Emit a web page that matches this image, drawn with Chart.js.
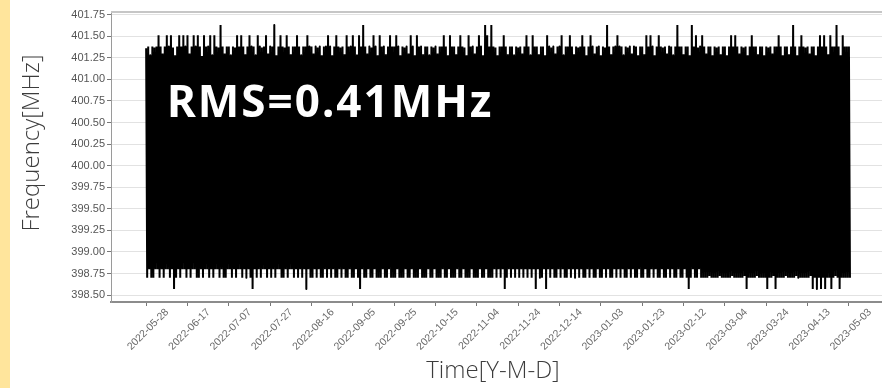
<!DOCTYPE html>
<html>
<head>
<meta charset="utf-8">
<title>Frequency</title>
<script src="https://cdn.jsdelivr.net/npm/chart.js@4.4.1/dist/chart.umd.min.js"></script>
<style>
  html, body { margin: 0; padding: 0; background: #fff; }
  canvas { display: block; }
</style>
</head>
<body>
<canvas id="freq-chart" width="882" height="388"></canvas>
<script>
// one high and one low reading per day, starting at startDate
const startDate = '2022-05-28';

const dailyHigh = [
  401.36, 401.38, 401.28, 401.38, 401.37, 401.38, 401.51, 401.38, 401.30, 401.38,
  401.51, 401.38, 401.51, 401.37, 401.28, 401.38, 401.51, 401.38, 401.51, 401.38,
  401.51, 401.30, 401.38, 401.51, 401.38, 401.51, 401.38, 401.27, 401.51, 401.38,
  401.38, 401.51, 401.28, 401.51, 401.38, 401.37, 401.63, 401.38, 401.30, 401.38,
  401.38, 401.28, 401.38, 401.37, 401.51, 401.38, 401.51, 401.38, 401.29, 401.38,
  401.51, 401.38, 401.38, 401.28, 401.51, 401.38, 401.37, 401.38, 401.51, 401.30,
  401.38, 401.38, 401.63, 401.28, 401.38, 401.51, 401.38, 401.37, 401.51, 401.38,
  401.29, 401.38, 401.38, 401.51, 401.38, 401.28, 401.38, 401.38, 401.51, 401.38,
  401.38, 401.30, 401.38, 401.37, 401.38, 401.28, 401.38, 401.38, 401.51, 401.38,
  401.28, 401.38, 401.51, 401.38, 401.37, 401.38, 401.29, 401.51, 401.38, 401.38,
  401.51, 401.38, 401.28, 401.51, 401.38, 401.63, 401.38, 401.30, 401.38, 401.37,
  401.51, 401.38, 401.28, 401.51, 401.38, 401.38, 401.29, 401.38, 401.51, 401.38,
  401.38, 401.51, 401.38, 401.28, 401.38, 401.37, 401.38, 401.30, 401.51, 401.38,
  401.28, 401.51, 401.38, 401.38, 401.29, 401.38, 401.38, 401.28, 401.38, 401.37,
  401.38, 401.30, 401.38, 401.38, 401.51, 401.38, 401.28, 401.51, 401.38, 401.38,
  401.29, 401.38, 401.51, 401.38, 401.37, 401.28, 401.51, 401.38, 401.38, 401.30,
  401.38, 401.51, 401.38, 401.28, 401.63, 401.51, 401.38, 401.63, 401.38, 401.37,
  401.28, 401.38, 401.38, 401.51, 401.38, 401.29, 401.38, 401.38, 401.28, 401.38,
  401.37, 401.38, 401.30, 401.38, 401.51, 401.38, 401.28, 401.51, 401.38, 401.38,
  401.29, 401.38, 401.38, 401.28, 401.51, 401.38, 401.37, 401.38, 401.30, 401.38,
  401.38, 401.51, 401.28, 401.38, 401.38, 401.51, 401.38, 401.29, 401.38, 401.37,
  401.38, 401.51, 401.38, 401.28, 401.38, 401.51, 401.38, 401.30, 401.38, 401.38,
  401.28, 401.38, 401.37, 401.63, 401.38, 401.29, 401.38, 401.38, 401.51, 401.38,
  401.38, 401.28, 401.38, 401.37, 401.38, 401.30, 401.38, 401.38, 401.28, 401.38,
  401.38, 401.29, 401.51, 401.38, 401.51, 401.38, 401.28, 401.38, 401.51, 401.38,
  401.37, 401.38, 401.30, 401.38, 401.38, 401.28, 401.38, 401.63, 401.38, 401.38,
  401.29, 401.38, 401.38, 401.28, 401.63, 401.38, 401.51, 401.37, 401.38, 401.51,
  401.38, 401.30, 401.38, 401.38, 401.28, 401.38, 401.37, 401.38, 401.29, 401.38,
  401.38, 401.28, 401.38, 401.51, 401.38, 401.51, 401.38, 401.30, 401.38, 401.37,
  401.38, 401.28, 401.38, 401.51, 401.38, 401.38, 401.29, 401.38, 401.38, 401.28,
  401.38, 401.37, 401.38, 401.30, 401.38, 401.38, 401.51, 401.38, 401.28, 401.38,
  401.38, 401.29, 401.38, 401.63, 401.38, 401.28, 401.38, 401.51, 401.38, 401.37,
  401.38, 401.30, 401.38, 401.38, 401.28, 401.38, 401.51, 401.38, 401.51, 401.38,
  401.29, 401.51, 401.38, 401.38, 401.63, 401.38, 401.28, 401.51, 401.38, 401.38,
  401.38
];

const dailyLow = [
  398.70, 398.80, 398.70, 398.70, 398.80, 398.80, 398.70, 398.80, 398.70, 398.80,
  398.80, 398.70, 398.80, 398.57, 398.70, 398.80, 398.70, 398.80, 398.80, 398.70,
  398.80, 398.70, 398.80, 398.80, 398.70, 398.70, 398.80, 398.70, 398.80, 398.80,
  398.70, 398.80, 398.70, 398.80, 398.80, 398.70, 398.80, 398.70, 398.70, 398.80,
  398.80, 398.70, 398.80, 398.70, 398.80, 398.80, 398.70, 398.80, 398.70, 398.80,
  398.70, 398.57, 398.80, 398.70, 398.80, 398.70, 398.80, 398.80, 398.70, 398.80,
  398.70, 398.80, 398.70, 398.80, 398.80, 398.70, 398.70, 398.80, 398.70, 398.80,
  398.80, 398.70, 398.80, 398.70, 398.80, 398.70, 398.80, 398.57, 398.80, 398.70,
  398.70, 398.80, 398.70, 398.80, 398.70, 398.70, 398.80, 398.70, 398.80, 398.70,
  398.80, 398.70, 398.70, 398.80, 398.70, 398.80, 398.70, 398.70, 398.80, 398.70,
  398.70, 398.80, 398.70, 398.57, 398.80, 398.70, 398.70, 398.80, 398.70, 398.70,
  398.80, 398.70, 398.70, 398.70, 398.80, 398.70, 398.70, 398.80, 398.70, 398.70,
  398.70, 398.80, 398.70, 398.70, 398.70, 398.80, 398.70, 398.70, 398.80, 398.70,
  398.70, 398.70, 398.80, 398.70, 398.70, 398.70, 398.80, 398.70, 398.70, 398.80,
  398.70, 398.70, 398.70, 398.80, 398.70, 398.70, 398.80, 398.70, 398.70, 398.70,
  398.80, 398.70, 398.70, 398.80, 398.70, 398.70, 398.70, 398.80, 398.70, 398.70,
  398.70, 398.80, 398.70, 398.70, 398.80, 398.70, 398.70, 398.70, 398.80, 398.70,
  398.80, 398.70, 398.80, 398.57, 398.70, 398.80, 398.70, 398.80, 398.70, 398.80,
  398.70, 398.80, 398.70, 398.80, 398.70, 398.80, 398.70, 398.80, 398.57, 398.80,
  398.70, 398.70, 398.80, 398.57, 398.80, 398.70, 398.80, 398.70, 398.70, 398.80,
  398.70, 398.80, 398.70, 398.70, 398.80, 398.70, 398.80, 398.70, 398.80, 398.70,
  398.80, 398.70, 398.70, 398.80, 398.70, 398.80, 398.70, 398.70, 398.80, 398.70,
  398.70, 398.80, 398.70, 398.80, 398.70, 398.70, 398.80, 398.70, 398.80, 398.70,
  398.80, 398.70, 398.70, 398.80, 398.70, 398.80, 398.70, 398.70, 398.80, 398.70,
  398.70, 398.80, 398.70, 398.70, 398.80, 398.70, 398.80, 398.70, 398.70, 398.80,
  398.70, 398.70, 398.80, 398.70, 398.80, 398.70, 398.70, 398.80, 398.70, 398.70,
  398.80, 398.70, 398.57, 398.70, 398.80, 398.70, 398.70, 398.80, 398.70, 398.70,
  398.70, 398.70, 398.72, 398.70, 398.70, 398.70, 398.70, 398.72, 398.70, 398.70,
  398.70, 398.70, 398.70, 398.72, 398.70, 398.70, 398.70, 398.70, 398.70, 398.72,
  398.57, 398.70, 398.70, 398.70, 398.70, 398.72, 398.70, 398.70, 398.70, 398.70,
  398.57, 398.70, 398.70, 398.72, 398.57, 398.70, 398.70, 398.70, 398.70, 398.72,
  398.70, 398.70, 398.70, 398.70, 398.72, 398.70, 398.70, 398.70, 398.70, 398.70,
  398.70, 398.72, 398.57, 398.70, 398.57, 398.70, 398.57, 398.70, 398.57, 398.70,
  398.70, 398.57, 398.70, 398.72, 398.70, 398.57, 398.70, 398.70, 398.70, 398.70,
  398.70
];

const xTickLabels = [
  '2022-05-28', '2022-06-17', '2022-07-07', '2022-07-27', '2022-08-16', '2022-09-05',
  '2022-09-25', '2022-10-15', '2022-11-04', '2022-11-24', '2022-12-14', '2023-01-03',
  '2023-01-23', '2023-02-12', '2023-03-04', '2023-03-24', '2023-04-13', '2023-05-03'
];

const yTickValues = [
  398.50, 398.75, 399.00, 399.25, 399.50, 399.75, 400.00,
  400.25, 400.50, 400.75, 401.00, 401.25, 401.50, 401.75
];

const rmsText = 'RMS=0.41MHz';

const DAY = 86400000;
const t0 = Date.parse(startDate);

// zigzag: high at the start of each day, low half a day later
const points = [];
dailyHigh.forEach((hi, i) => {
  points.push({ x: t0 + i * DAY, y: hi });
  points.push({ x: t0 + i * DAY + DAY / 2, y: dailyLow[i] });
});

const decor = {
  id: 'decor',
  beforeDraw(chart) {
    const ctx = chart.ctx;
    ctx.save();
    ctx.fillStyle = '#ffe59c';
    ctx.fillRect(0, 0, 10, chart.height);
    ctx.restore();
  },
  afterDraw(chart) {
    const { ctx, chartArea: a } = chart;
    ctx.save();

    // frame line along the top of the plot
    ctx.strokeStyle = '#c6c6c6';
    ctx.lineWidth = 2;
    ctx.beginPath();
    ctx.moveTo(a.left, a.top);
    ctx.lineTo(a.right, a.top);
    ctx.stroke();

    // RMS note over the band
    ctx.font = 'bold 44px "Noto Sans"';
    ctx.letterSpacing = '2px';
    ctx.textAlign = 'left';
    ctx.textBaseline = 'alphabetic';
    ctx.shadowColor = 'rgba(0,0,0,0.95)';
    ctx.shadowBlur = 6;
    ctx.shadowOffsetX = 2;
    ctx.shadowOffsetY = 2;
    ctx.fillStyle = '#ffffff';
    ctx.fillText(rmsText, 167, 117);
    ctx.restore();

    // axis titles
    ctx.save();
    ctx.letterSpacing = '0px';
    ctx.fillStyle = '#3c3c3c';
    ctx.textAlign = 'center';
    ctx.textBaseline = 'middle';
    ctx.font = '300 24px "Open Sans"';
    ctx.fillText('Time[Y-M-D]', 493, 371);
    ctx.translate(32, 143);
    ctx.rotate(-Math.PI / 2);
    ctx.font = '300 24px "Open Sans"';
    ctx.fillText('Frequency[MHz]', 0, 0);
    ctx.restore();
  }
};

const tickFont = { family: 'Liberation Sans', size: 11 };

new Chart(document.getElementById('freq-chart'), {
  type: 'line',
  data: {
    datasets: [{
      data: points,
      borderColor: '#000000',
      borderWidth: 2,
      borderJoinStyle: 'bevel',
      pointRadius: 0,
      tension: 0.0001
    }]
  },
  options: {
    responsive: false,
    animation: false,
    layout: { padding: { top: 12, left: 0, right: 0, bottom: 0 } },
    plugins: { legend: { display: false }, tooltip: { enabled: false } },
    scales: {
      x: {
        type: 'linear',
        min: Date.parse('2022-05-11'),
        max: Date.parse('2023-05-19'),
        afterBuildTicks: s => { s.ticks = xTickLabels.map(l => ({ value: Date.parse(l) })); },
        afterFit: s => { s.height = 86; },
        grid: { drawOnChartArea: false, tickLength: 4, color: '#777777' },
        border: { color: '#8c8c8c', width: 2 },
        ticks: {
          autoSkip: false,
          minRotation: 45,
          maxRotation: 45,
          labelOffset: 21,
          padding: 0,
          color: '#6a6a6a',
          font: { family: 'Liberation Sans', size: 10.5 },
          callback: v => new Date(v).toISOString().slice(0, 10)
        }
      },
      y: {
        min: 398.42,
        max: 401.78,
        afterBuildTicks: s => { s.ticks = yTickValues.map(v => ({ value: v })); },
        afterFit: s => { s.width = 111; },
        grid: { color: '#e2e2e2', tickColor: '#777777', tickLength: 4 },
        border: { color: '#9a9a9a', width: 1 },
        ticks: {
          color: '#555555',
          padding: 2,
          font: tickFont,
          callback: v => v.toFixed(2)
        }
      }
    }
  },
  plugins: [decor]
});
</script>
</body>
</html>
